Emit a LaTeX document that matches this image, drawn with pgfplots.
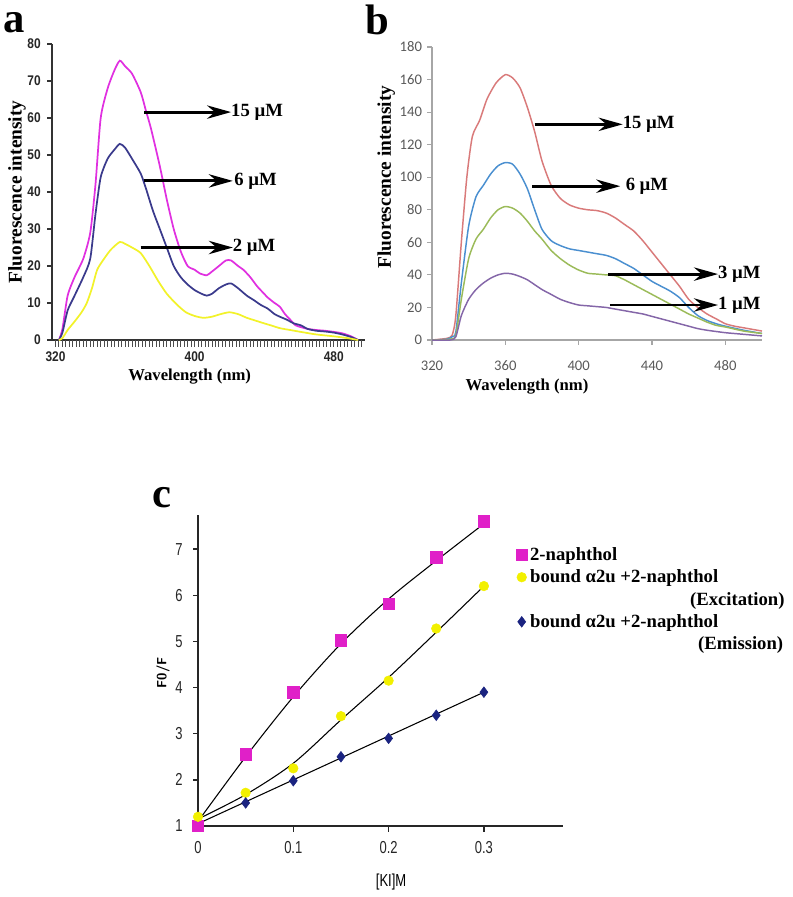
\documentclass[border=0pt]{standalone}
\usepackage{fontspec}
\setmainfont{Liberation Serif}
\usepackage{pgfplots}
\pgfplotsset{compat=1.18}
\usetikzlibrary{arrows.meta}
\newfontfamily\tickfontA[FakeStretch=0.85]{Liberation Sans}
\newfontfamily\carlito{Carlito}
\newfontfamily\narrowsans[FakeStretch=0.75]{Liberation Sans}
\definecolor{pinkA}{HTML}{E030E0}
\definecolor{navyA}{HTML}{3A3A8C}
\definecolor{yellowA}{HTML}{F2F22A}
\definecolor{redB}{HTML}{D97A7A}
\definecolor{blueB}{HTML}{4A8FD0}
\definecolor{greenB}{HTML}{9BBB59}
\definecolor{purpleB}{HTML}{8466A8}
\definecolor{grayB}{HTML}{595959}
\definecolor{pinkC}{HTML}{E020C8}
\definecolor{yellowC}{HTML}{F2F000}
\definecolor{navyC}{HTML}{1A2380}
\tikzset{annarrow/.style={line width=2.2pt, -{Stealth[length=18pt,width=10pt]}}}
\newcommand{\annfont}{\bfseries\fontsize{14}{16}\selectfont}
\begin{document}
\begin{tikzpicture}
\path[use as bounding box] (0,0) rectangle (793*0.75pt,-897*0.75pt);
% panel letters
\node[anchor=base west, inner sep=0pt] at (3*0.75pt,-32*0.75pt) {\bfseries\fontsize{32}{32}\selectfont a};
\node[anchor=base west, inner sep=0pt] at (365*0.75pt,-34*0.75pt) {\bfseries\fontsize{32}{32}\selectfont b};
\node[anchor=base west, inner sep=0pt] at (152*0.75pt,-507*0.75pt) {\bfseries\fontsize{32}{32}\selectfont c};

% ---------------- panel a ----------------
\begin{axis}[
 at={(52*0.75pt,-340*0.75pt)}, anchor=south west,
 scale only axis, width=234.75pt, height=222pt,
 xmin=318, xmax=498, ymin=0, ymax=80,
 axis lines=left,
 axis line style={-, line width=1pt, black!80},
 xtick={320,400,480},
 ytick={0,10,...,80},
 xtick align=outside, ytick align=outside,
 major tick length=5pt,
 xtick style={draw=none}, ytick style={draw=none},
 /pgf/number format/assume math mode=true,
 ticklabel style={font=\tickfontA\bfseries\fontsize{10.5}{12}\selectfont, text=black!85},
 xlabel={Wavelength (nm)}, ylabel={Fluorescence intensity},
 xlabel style={at={(axis description cs:0.44,-0.125)}, anchor=center, font=\bfseries\fontsize{12.5}{14}\selectfont},
 ylabel style={at={(axis description cs:-0.112,0.5)}, anchor=center, font=\bfseries\fontsize{14.5}{16}\selectfont},
 clip=false,
 every axis plot/.append style={line width=1.3pt, no marks, smooth, tension=0.4},
]
\pgfplotsinvokeforeach{320,322,...,496}{\draw[black!70, line width=0.7pt] (axis cs:#1,0) -- (axis cs:#1,-1.8);}
\pgfplotsinvokeforeach{0,10,...,80}{\draw[black!80, line width=0.9pt] (axis cs:318,#1) -- (axis cs:315,#1);}
\addplot[pinkA] coordinates {(322,0)(324,3)(327,12)(331,17)(336,22)(340,29)(343,42)(346,60)(350,68)(354,73)(357,75.5)(360,74)(364,72)(369,67)(372,62)(375,57)(380,47)(384,38)(388,30)(392,24)(396,20)(400,19)(403,18)(407,17.5)(410,18.5)(414,20)(418,21.5)(421,21.5)(425,20)(428,19)(432,17)(436,14.5)(440,12.5)(442,11.5)(446,10)(449,9)(452,7)(455,5.5)(458,4)(461,3.5)(465,3)(470,2.7)(475,2.5)(480,2.2)(485,1.8)(490,1)(494,0)};
\addplot[navyA] coordinates {(322,0)(324,2)(327,8)(331,12)(336,17)(340,22)(343,34)(346,44)(350,49)(354,51.5)(357,53)(360,52)(364,49)(369,45)(372,41)(376,35)(380,30)(384,25)(388,20)(392,17)(396,15)(400,13.5)(404,12.5)(407,12)(410,12.5)(414,14)(418,15)(421,15.3)(425,14)(430,12)(434,10.8)(438,9.5)(442,8.5)(446,7)(449,6.3)(453,5.5)(457,4.5)(461,4)(465,3)(470,2.5)(475,2.3)(480,2)(485,1.5)(490,0.8)(494,0)};
\addplot[yellowA] coordinates {(322,0)(324,0.5)(327,2.7)(331,5)(335,7.5)(338,10)(341,14)(344,19)(348,22)(352,24.5)(357,26.5)(360,26)(364,25)(369,23.5)(374,20)(379,16)(384,12.5)(390,9.5)(395,7.5)(400,6.5)(405,6)(410,6.3)(415,7)(420,7.5)(425,7)(430,6)(434,5.4)(440,4.5)(445,3.8)(449,3.2)(455,2.7)(461,2.2)(470,1.5)(480,1)(488,0.5)(494,0)};
\draw[annarrow] (axis cs:371,61.6) -- (axis cs:421,61.6) node[anchor=west, inner sep=0pt, xshift=-1pt] {\annfont 15 µM};
\draw[annarrow] (axis cs:371,43) -- (axis cs:422,43) node[anchor=west, inner sep=0pt, xshift=0pt] {\annfont 6 µM};
\draw[annarrow] (axis cs:369,25) -- (axis cs:422,25) node[anchor=west, inner sep=0pt, xshift=-1pt] {\annfont 2 µM};
\end{axis}

% ---------------- panel b ----------------
\begin{axis}[
 at={(432*0.75pt,-340*0.75pt)}, anchor=south west,
 scale only axis, width=247.5pt, height=219.75pt,
 xmin=320, xmax=500, ymin=0, ymax=180,
 axis lines=left,
 axis line style={-, line width=0.8pt, black!35},
 xtick={320,360,...,480}, ytick={0,20,...,180},
 xtick align=outside, ytick align=outside, major tick length=4pt,
 xtick style={draw=none}, ytick style={draw=none},
 /pgf/number format/assume math mode=true,
 ticklabel style={font=\carlito\fontsize{11}{13}\selectfont, text=grayB},
 xticklabel style={yshift=-8pt},
 xlabel={Wavelength (nm)}, ylabel={Fluorescence intensity},
 xlabel style={at={(axis description cs:0.288,-0.16)}, anchor=center, font=\bfseries\fontsize{12.5}{14}\selectfont},
 ylabel style={at={(axis description cs:-0.139,0.556)}, anchor=center, font=\bfseries\fontsize{14.5}{16}\selectfont},
 clip=false,
 every axis plot/.append style={line width=1.1pt, no marks, smooth, tension=0.4},
]
\pgfplotsinvokeforeach{320,360,...,480}{\draw[black!35, line width=0.8pt] (axis cs:#1,0) -- (axis cs:#1,-3.3);}
\pgfplotsinvokeforeach{0,20,...,180}{\draw[black!35, line width=0.8pt] (axis cs:320,#1) -- (axis cs:317.5,#1);}
\addplot[redB] coordinates {(320,0)(328,1)(331,3)(333,15)(336,60)(339,100)(342,125)(346,135)(350,148)(355,158)(360,163)(364,161)(368,155)(372,143)(376,128)(380,110)(385,95)(390,87)(395,83)(400,81)(405,80)(410,79.5)(415,78)(420,75)(425,71)(430,67)(435,61)(440,54)(445,47)(450,40)(455,33)(460,25)(465,20)(470,16)(475,13)(480,10)(485,8.5)(490,7.5)(495,6.5)(500,5.5)};
\addplot[blueB] coordinates {(320,0)(328,0.5)(331,2)(333,5)(336,35)(340,70)(344,88)(348,95)(352,102)(356,107)(360,109)(364,108)(368,102)(372,93)(376,80)(380,68)(385,61)(390,58)(395,56)(400,55)(405,54)(410,53)(415,52)(420,50)(425,47)(430,44)(435,40)(440,36)(445,33)(450,30)(455,26)(460,20)(465,15)(470,12)(475,10)(480,8.5)(490,6)(500,4)};
\addplot[greenB] coordinates {(320,0)(330,0.5)(333,3)(336,25)(340,50)(344,62)(348,68)(352,75)(356,80)(360,82)(364,81)(368,78)(372,73)(376,67)(380,62)(385,55)(390,50)(395,46)(400,43)(405,41)(410,40.5)(415,40)(420,39.5)(425,37)(430,34)(435,31)(440,28)(445,25)(450,22)(455,19)(460,16)(465,13.5)(470,11)(475,9)(480,8)(490,5.5)(500,4)};
\addplot[purpleB] coordinates {(320,0)(330,0)(333,2)(336,15)(340,25)(344,31)(348,35)(352,38)(356,40)(360,41)(364,40.5)(368,39)(372,37)(376,34)(380,31)(385,28)(390,25)(395,23)(400,21.5)(405,21)(410,20.5)(415,20)(420,19)(425,18)(430,17)(435,16)(440,14.5)(445,13)(450,11.5)(455,10)(460,8.5)(465,7)(470,6)(480,4.5)(490,3.5)(500,2.5)};
\draw[annarrow] (axis cs:376,132.5) -- (axis cs:424,132.5) node[anchor=west, inner sep=0pt, xshift=-1pt] {\annfont 15 µM};
\draw[annarrow] (axis cs:374.6,94.5) -- (axis cs:422.7,94.5) node[anchor=west, inner sep=0pt, xshift=3pt] {\annfont 6 µM};
\draw[annarrow] (axis cs:416,40.5) -- (axis cs:476,40.5) node[anchor=west, inner sep=0pt, xshift=-1pt] {\annfont 3 µM};
\draw[annarrow] (axis cs:417,21.5) -- (axis cs:476,21.5) node[anchor=west, inner sep=0pt, xshift=-1pt] {\annfont 1 µM};
\end{axis}

% ---------------- panel c ----------------
\begin{axis}[
 at={(198*0.75pt,-826*0.75pt)}, anchor=south west,
 scale only axis, width=273.75pt, height=233.25pt,
 xmin=0, xmax=0.383, ymin=1, ymax=7.74,
 axis lines=left,
 axis line style={-, line width=1pt, black!85},
 xtick={0,0.1,0.2,0.3}, xticklabels={0,0.1,0.2,0.3},
 ytick={1,2,...,7},
 xtick align=outside, ytick align=outside, major tick length=5pt,
 xtick style={draw=none}, ytick style={draw=none},
 /pgf/number format/assume math mode=true,
 ticklabel style={font=\narrowsans\fontsize{13}{15}\selectfont, text=black!85},
 xticklabel style={yshift=-3pt},
 yticklabel style={xshift=-3pt},
 xlabel={[KI]M}, ylabel={F0/F},
 xlabel style={at={(axis description cs:0.529,-0.18)}, anchor=center, font=\narrowsans\fontsize{13}{15}\selectfont},
 ylabel style={at={(axis description cs:-0.096,0.492)}, anchor=center, font=\sffamily\bfseries\fontsize{10}{12}\selectfont},
 legend style={at={(axis description cs:0.855,0.905)}, anchor=north west, draw=none, fill=none,
   font=\bfseries\fontsize{14}{16}\selectfont, row sep=1.5pt, inner sep=0pt,
   /tikz/every even column/.style={column sep=1pt}},
 legend cell align=left,
 clip=false,
]
\pgfplotsinvokeforeach{0,0.1,0.2,0.3}{\draw[black!85, line width=1pt] (axis cs:#1,1) -- (axis cs:#1,0.87);}
\pgfplotsinvokeforeach{1,2,...,7}{\draw[black!85, line width=1pt] (axis cs:0,#1) -- (axis cs:-0.0056,#1);}
\addplot[black, line width=0.8pt, smooth, forget plot] coordinates {(0,1.1)(0.05,2.5)(0.1,3.8)(0.15,4.95)(0.2,5.92)(0.25,6.75)(0.3,7.55)};
\addplot[black, line width=0.8pt, smooth, forget plot] coordinates {(0,1.15)(0.05,1.68)(0.1,2.36)(0.15,3.3)(0.2,4.22)(0.25,5.2)(0.3,6.2)};
\addplot[black, line width=0.8pt, forget plot] coordinates {(0,1.05)(0.1,2.0)(0.2,2.95)(0.3,3.9)};
\addplot[only marks, mark=square*, mark size=4.3pt, mark options={draw=pinkC, fill=pinkC}] coordinates {(0,1)(0.05,2.55)(0.1,3.9)(0.15,5.03)(0.2,5.82)(0.25,6.82)(0.3,7.6)};
\addplot[only marks, mark=*, mark size=3.6pt, mark options={draw=yellowC, fill=yellowC}] coordinates {(0,1.2)(0.05,1.72)(0.1,2.25)(0.15,3.38)(0.2,4.15)(0.25,5.28)(0.3,6.2)};
\addlegendimage{empty legend}
\addplot[only marks, mark=diamond*, mark size=4pt, mark options={draw=navyC, fill=navyC}] coordinates {(0.05,1.5)(0.1,1.98)(0.15,2.5)(0.2,2.9)(0.25,3.4)(0.3,3.9)};
\addlegendimage{empty legend}
\legend{2-naphthol, bound α2u +2-naphthol, \hspace*{120pt}(Excitation), bound α2u +2-naphthol, \hspace*{126pt}(Emission)}
\end{axis}
\end{tikzpicture}
\end{document}
